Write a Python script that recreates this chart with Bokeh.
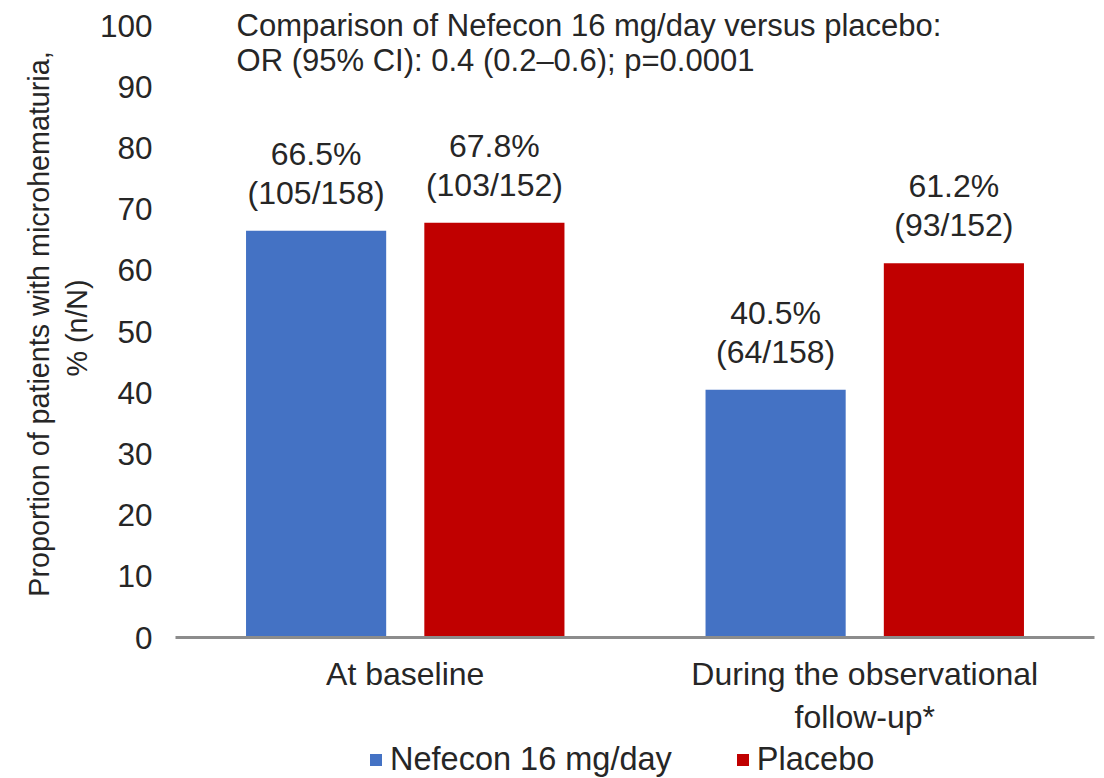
from bokeh.plotting import figure
from bokeh.layouts import column
from bokeh.models import ColumnDataSource, FixedTicker, Range1d, Legend, LegendItem
from bokeh.core.properties import value
from bokeh.embed import file_html
from bokeh.resources import INLINE

categories = ["At baseline", "During the observational\nfollow-up*"]
series_names = ["Nefecon 16 mg/day", "Placebo"]
nefecon_pct = [66.5, 40.5]
placebo_pct = [67.8, 61.2]
nefecon_nN = ["(105/158)", "(64/158)"]
placebo_nN = ["(103/152)", "(93/152)"]
y_ticks = [0, 10, 20, 30, 40, 50, 60, 70, 80, 90, 100]
title_lines = ["Comparison of Nefecon 16 mg/day versus placebo:",
               "OR (95% CI): 0.4 (0.2\u20130.6); p=0.0001"]

FONT = "Liberation Sans"
TXT = "#262626"
BLUE = "#4472C4"
RED = "#C00000"

centers = [i + 0.5 for i in range(len(categories))]
offset = 0.194
bw = 0.305

p = figure(width=1096, height=740, output_backend="svg", toolbar_location=None,
           x_range=Range1d(0, len(categories)), y_range=Range1d(0, 102.5),
           min_border_left=175, min_border_right=2, min_border_top=10, min_border_bottom=103)
p.outline_line_color = None
p.grid.grid_line_color = None
p.background_fill_color = "white"

src_n = ColumnDataSource(dict(x=[c - offset for c in centers], y=nefecon_pct,
                              pct=[f"{v}%" for v in nefecon_pct], nN=nefecon_nN))
src_p = ColumnDataSource(dict(x=[c + offset for c in centers], y=placebo_pct,
                              pct=[f"{v}%" for v in placebo_pct], nN=placebo_nN))

r1 = p.vbar(x="x", top="y", width=bw, source=src_n, fill_color=BLUE, line_color=None)
r2 = p.vbar(x="x", top="y", width=bw, source=src_p, fill_color=RED, line_color=None)

for src in (src_n, src_p):
    p.text(x="x", y="y", text="pct", source=src, text_font=value(FONT), text_font_size="32px",
           text_color=TXT, text_align="center", text_baseline="middle", y_offset=-77)
    p.text(x="x", y="y", text="nN", source=src, text_font=value(FONT), text_font_size="32px",
           text_color=TXT, text_align="center", text_baseline="middle", y_offset=-38)

p.text(x=[0.133, 0.133], y=[100, 94.3], text=title_lines, text_font=value(FONT),
       text_font_size="31px", text_color=TXT, text_align="left", text_baseline="middle")

# x axis
p.xaxis.ticker = FixedTicker(ticks=centers)
p.xaxis.major_label_overrides = {c: lab for c, lab in zip(centers, categories)}
p.xaxis.major_tick_line_color = None
p.xaxis.minor_tick_line_color = None
p.xaxis.axis_line_color = "#8C8C8C"
p.xaxis.axis_line_width = 3
p.xaxis.major_label_text_font = FONT
p.xaxis.major_label_text_font_size = "32px"
p.xaxis.major_label_text_color = TXT
p.xaxis.major_label_standoff = 12

# y axis
p.yaxis.ticker = FixedTicker(ticks=y_ticks)
p.yaxis.axis_line_color = None
p.yaxis.major_tick_line_color = None
p.yaxis.minor_tick_line_color = None
p.yaxis.major_label_text_font = FONT
p.yaxis.major_label_text_font_size = "31.5px"
p.yaxis.major_label_text_color = TXT
p.yaxis.major_label_standoff = 17
p.yaxis.axis_label = "Proportion of patients with microhematuria,\n%  (n/N)"
p.yaxis.axis_label_text_font = FONT
p.yaxis.axis_label_text_font_size = "28.7px"
p.yaxis.axis_label_text_font_style = "normal"
p.yaxis.axis_label_text_color = TXT
p.yaxis.axis_label_standoff = 4

# legend strip below the chart (frame aligned with the main chart's frame)
pl = figure(width=1096, height=38, output_backend="svg", toolbar_location=None,
            x_range=Range1d(0, 1), y_range=Range1d(0, 1), x_axis_type=None, y_axis_type=None,
            min_border_left=175, min_border_right=2, min_border_top=0, min_border_bottom=0)
pl.outline_line_color = None
pl.grid.grid_line_color = None
lg1 = pl.vbar(x=[0.5], top=[0], bottom=[0], width=0.0, fill_color=BLUE, line_color=None)
lg2 = pl.vbar(x=[0.5], top=[0], bottom=[0], width=0.0, fill_color=RED, line_color=None)
legend = Legend(items=[LegendItem(label=series_names[0], renderers=[lg1]),
                       LegendItem(label=series_names[1], renderers=[lg2])],
                orientation="horizontal", location=(193, 0),
                label_text_font=FONT, label_text_font_size="32.5px", label_text_color=TXT,
                glyph_width=15, glyph_height=15, label_standoff=7, spacing=63,
                padding=0, margin=0, border_line_color=None, background_fill_alpha=0)
pl.add_layout(legend, "center")

open("out.html", "w").write(file_html(column(p, pl, spacing=0), INLINE))
